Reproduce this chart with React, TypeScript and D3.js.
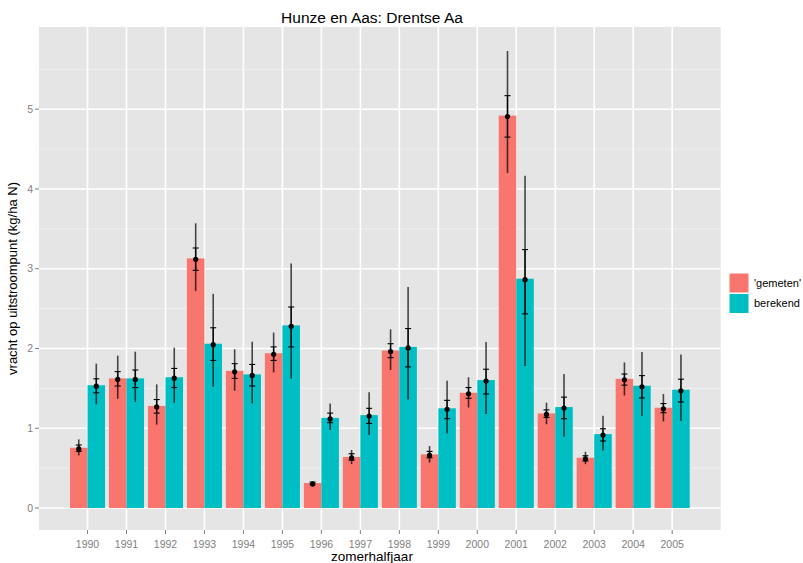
import React from "react";
import * as d3 from "d3";

// Summer half-year nitrogen loads at the outlet, measured vs. computed
const years = [1990, 1991, 1992, 1993, 1994, 1995, 1996, 1997, 1998, 1999, 2000, 2001, 2002, 2003, 2004, 2005];
const seriesNames = ["'gemeten'", "berekend"];
const seriesColors = ["#F8766D", "#00BFC4"];

// bar heights (kg/ha N)
const gemeten = [0.755, 1.625, 1.28, 3.13, 1.72, 1.94, 0.313, 0.64, 1.975, 0.672, 1.445, 4.92, 1.186, 0.63, 1.62, 1.257];
const berekend = [1.54, 1.625, 1.64, 2.06, 1.675, 2.29, 1.13, 1.165, 2.02, 1.25, 1.604, 2.875, 1.266, 0.927, 1.533, 1.483];

// outer uncertainty range
const gemetenLo = [0.66, 1.37, 1.045, 2.72, 1.47, 1.7, 0.29, 0.55, 1.73, 0.57, 1.26, 4.2, 1.05, 0.55, 1.41, 1.086];
const gemetenHi = [0.86, 1.91, 1.55, 3.57, 1.99, 2.2, 0.335, 0.727, 2.24, 0.777, 1.64, 5.73, 1.32, 0.705, 1.826, 1.43];
const berekendLo = [1.3, 1.33, 1.32, 1.52, 1.31, 1.62, 0.977, 0.915, 1.36, 0.935, 1.18, 1.78, 0.895, 0.72, 1.153, 1.09];
const berekendHi = [1.81, 1.96, 2.01, 2.685, 2.085, 3.066, 1.31, 1.45, 2.77, 1.595, 2.08, 4.165, 1.68, 1.157, 1.955, 1.926];

// inner uncertainty range
const gemetenInLo = [0.71, 1.53, 1.19, 2.98, 1.625, 1.85, 0.3, 0.6, 1.885, 0.63, 1.375, 4.65, 1.135, 0.59, 1.54, 1.195];
const gemetenInHi = [0.79, 1.71, 1.36, 3.26, 1.81, 2.02, 0.325, 0.68, 2.06, 0.71, 1.51, 5.17, 1.23, 0.655, 1.68, 1.31];
const berekendInLo = [1.445, 1.51, 1.51, 1.85, 1.53, 2.02, 1.07, 1.06, 1.77, 1.12, 1.43, 2.435, 1.12, 0.84, 1.38, 1.33];
const berekendInHi = [1.62, 1.73, 1.75, 2.26, 1.8, 2.52, 1.19, 1.25, 2.25, 1.35, 1.74, 3.24, 1.39, 0.994, 1.66, 1.615];

const yTicks = [0, 1, 2, 3, 4, 5];
const yMinor = [0.5, 1.5, 2.5, 3.5, 4.5, 5.5];

const W = 803;
const H = 563;
const panel = { left: 39, right: 720.7, top: 27, bottom: 530 };
const FONT = "'Liberation Sans', Arial, Helvetica, sans-serif";

export default function App() {
  const x = d3.scaleLinear().domain([1988.755, 2006.245]).range([panel.left, panel.right]);
  const y = d3.scaleLinear().domain([-0.2757, 6.0308]).range([panel.bottom, panel.top]);
  const unit = x(1) - x(0);
  const barW = 0.45 * unit;
  const tickHalf = 3;

  const series = [
    { vals: gemeten, lo: gemetenLo, hi: gemetenHi, inLo: gemetenInLo, inHi: gemetenInHi, offset: -0.225 },
    { vals: berekend, lo: berekendLo, hi: berekendHi, inLo: berekendInLo, inHi: berekendInHi, offset: 0.225 },
  ];

  const midX = 372;

  return (
    <svg width={W} height={H} style={{ display: "block", position: "absolute", left: 0, top: 0 }} fontFamily={FONT}>
      <rect x={0} y={0} width={W} height={H} fill="#ffffff" />
      <text x={midX} y={23} textAnchor="middle" fontSize={15.5} fill="#000">
        Hunze en Aas: Drentse Aa
      </text>

      {/* panel */}
      <rect x={panel.left} y={panel.top} width={panel.right - panel.left} height={panel.bottom - panel.top} fill="#E5E5E5" />
      {yMinor.map((v) => (
        <line key={"ym" + v} x1={panel.left} x2={panel.right} y1={y(v)} y2={y(v)} stroke="#F2F2F2" strokeWidth={0.8} />
      ))}
      {yTicks.map((v) => (
        <line key={"yg" + v} x1={panel.left} x2={panel.right} y1={y(v)} y2={y(v)} stroke="#FFFFFF" strokeWidth={1.6} />
      ))}
      {years.map((yr) => (
        <line key={"xg" + yr} x1={x(yr)} x2={x(yr)} y1={panel.top} y2={panel.bottom} stroke="#FFFFFF" strokeWidth={1.6} />
      ))}

      {/* bars */}
      {series.map((s, si) =>
        years.map((yr, i) => {
          const cx = x(yr + s.offset);
          return (
            <rect
              key={"b" + si + "-" + yr}
              x={cx - barW / 2}
              y={y(s.vals[i])}
              width={barW}
              height={y(0) - y(s.vals[i])}
              fill={seriesColors[si]}
            />
          );
        })
      )}

      {/* uncertainty ranges */}
      {series.map((s, si) =>
        years.map((yr, i) => {
          const cx = x(yr + s.offset);
          return (
            <g key={"e" + si + "-" + yr}>
              <line x1={cx} x2={cx} y1={y(s.hi[i])} y2={y(s.lo[i])} stroke="#000" strokeOpacity={0.7} strokeWidth={1.6} />
              <line x1={cx} x2={cx} y1={y(s.inHi[i])} y2={y(s.inLo[i])} stroke="#000" strokeWidth={1.2} />
              <line x1={cx - tickHalf} x2={cx + tickHalf} y1={y(s.inHi[i])} y2={y(s.inHi[i])} stroke="#000" strokeWidth={1.1} />
              <line x1={cx - tickHalf} x2={cx + tickHalf} y1={y(s.inLo[i])} y2={y(s.inLo[i])} stroke="#000" strokeWidth={1.1} />
              <circle cx={cx} cy={y(s.vals[i]) + 1} r={2.6} fill="#000" />
            </g>
          );
        })
      )}

      {/* y axis */}
      {yTicks.map((v) => (
        <g key={"yt" + v}>
          <line x1={panel.left - 4} x2={panel.left} y1={y(v)} y2={y(v)} stroke="#7F7F7F" strokeWidth={1} />
          <text x={panel.left - 6} y={y(v)} dy="0.35em" textAnchor="end" fontSize={10.5} fill="#7F7F7F">
            {v}
          </text>
        </g>
      ))}
      <text
        transform={`translate(17, ${(panel.top + panel.bottom) / 2}) rotate(-90)`}
        textAnchor="middle"
        fontSize={13}
        fill="#000"
      >
        vracht op uitstroompunt (kg/ha N)
      </text>

      {/* x axis */}
      {years.map((yr) => (
        <g key={"xt" + yr}>
          <line x1={x(yr)} x2={x(yr)} y1={panel.bottom} y2={panel.bottom + 4} stroke="#7F7F7F" strokeWidth={1} />
          <text x={x(yr)} y={panel.bottom + 18} textAnchor="middle" fontSize={10.5} fill="#7F7F7F">
            {yr}
          </text>
        </g>
      ))}
      <text x={midX} y={561} textAnchor="middle" fontSize={13.5} fill="#000">
        zomerhalfjaar
      </text>

      {/* legend */}
      {seriesNames.map((name, i) => (
        <g key={"lg" + i} transform={`translate(729, ${273 + i * 20.5})`}>
          <rect x={0} y={0} width={20} height={20} fill={seriesColors[i]} stroke="#FFFFFF" strokeWidth={1} />
          <text x={25} y={10} dy="0.35em" fontSize={11} fill="#000">
            {name}
          </text>
        </g>
      ))}
    </svg>
  );
}
